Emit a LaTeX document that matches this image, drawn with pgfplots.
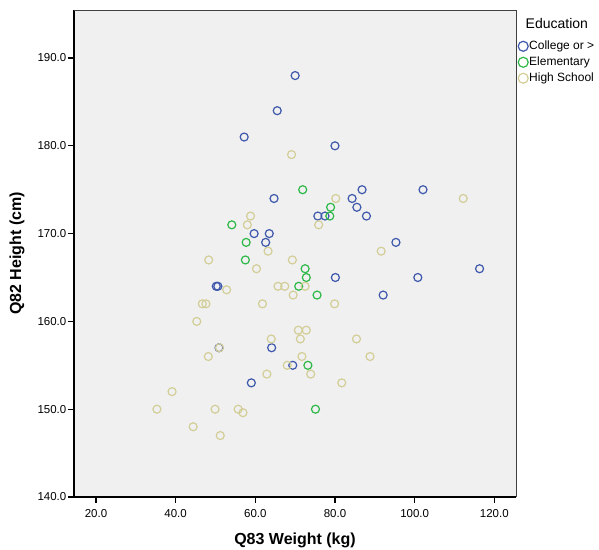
\documentclass[border=0pt]{standalone}
\usepackage{pgfplots}
\pgfplotsset{compat=1.18}
\usepackage{fontspec}
\setmainfont{Liberation Sans}

\definecolor{college}{HTML}{3E58AC}
\definecolor{elementary}{HTML}{2EB848}
\definecolor{highschool}{HTML}{D3CE97}
\definecolor{plotbg}{HTML}{F0F0F0}

% weight (kg), height (cm) by education level
\pgfplotstableread{
w h
70.0 188
65.5 184
57.2 181
80.0 180
86.8 175
102.1 175
64.7 174
84.3 174
85.5 173
75.7 172
77.5 172
87.9 172
59.7 170
63.5 170
62.6 169
95.3 169
116.3 166
80.1 165
100.8 165
50.2 164
50.6 164
92.1 163
50.9 157
64.1 157
69.4 155
59.0 153
}\college

\pgfplotstableread{
w h
71.9 175
78.9 173
78.7 172
54.1 171
57.7 169
57.5 167
72.5 166
72.8 165
70.9 164
75.5 163
73.2 155
75.1 150
}\elementary

\pgfplotstableread{
w h
69.1 179
80.2 174
112.2 174
58.8 172
58.0 171
75.9 171
63.2 168
91.6 168
48.3 167
69.3 167
60.3 166
65.7 164
67.4 164
72.5 164
52.8 163.6
69.5 163
46.7 162
47.6 162
61.8 162
79.9 162
45.3 160
70.8 159
72.8 159
64.0 158
71.3 158
85.4 158
51.0 157
48.2 156
71.7 156
88.8 156
68.0 155
62.9 154
73.9 154
81.7 153
39.1 152
35.3 150
49.9 150
55.7 150
56.9 149.6
44.4 148
51.2 147
}\highschool

\begin{document}
\begin{tikzpicture}[x=1bp,y=1bp]
\useasboundingbox (0,0) rectangle (599,550);
\begin{axis}[
  at={(74bp,53bp)}, anchor=south west,
  scale only axis, width=442bp, height=487bp,
  xmin=14.48, xmax=125.45, ymin=140, ymax=195.47,
  axis background/.style={fill=plotbg},
  axis lines=left,
  axis line style={black, line width=1.8bp, -},
  xtick={20,40,...,120}, ytick={140,150,...,190},
  tick align=outside, major tick length=6bp,
  tick style={black, line width=1.2bp},
  xtick pos=bottom, ytick pos=left,
  /pgf/number format/.cd, fixed, fixed zerofill, precision=1, assume math mode=true,
  /pgfplots/.cd,
  ticklabel style={font=\fontsize{11.5bp}{13bp}\selectfont, text=black},
  xticklabel style={inner sep=2bp, yshift=-4bp},
  yticklabel style={inner sep=1.5bp},
  xlabel={\bfseries Q83 Weight (kg)},
  ylabel={\bfseries Q82 Height (cm)},
  label style={font=\fontsize{16bp}{18bp}\selectfont},
  xlabel style={at={(axis description cs:0.5,0)}, anchor=center, yshift=-43bp},
  ylabel style={at={(axis description cs:0,0.5)}, anchor=center, rotate=0, xshift=0bp, yshift=57bp},
  clip=false,
  legend style={at={(axis description cs:1,1)}, anchor=north west,
    xshift=2bp, yshift=-30bp, draw=none, fill=none,
    font=\fontsize{12bp}{14bp}\selectfont,
    row sep=3.8bp, inner sep=0pt,
    nodes={inner sep=1bp}},
  legend cell align=left,
  legend image code/.code={\draw[#1, mark size=5bp, line width=1.2bp] plot coordinates {(4bp,0bp)};},
]
\draw[color=black!75, line width=0.9bp] (rel axis cs:0,1) -- (rel axis cs:1,1) -- (rel axis cs:1,0);
\addplot[only marks, mark=o, mark size=4bp, line width=1.2bp, color=college] table[x=w, y=h] {\college};
\addplot[only marks, mark=o, mark size=4bp, line width=1.2bp, color=elementary] table[x=w, y=h] {\elementary};
\addplot[only marks, mark=o, mark size=4bp, line width=1.2bp, color=highschool] table[x=w, y=h] {\highschool};
\legend{College or \textgreater, Elementary, High School}
\end{axis}
\node[anchor=west, font=\fontsize{14bp}{16bp}\selectfont, inner sep=0pt] at (525.5,526) {Education};
\end{tikzpicture}
\end{document}
